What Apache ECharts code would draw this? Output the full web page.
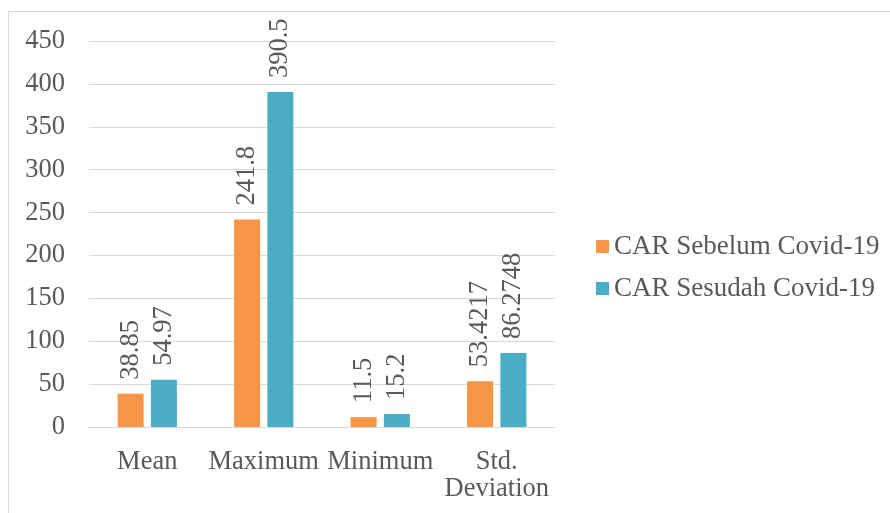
<!DOCTYPE html>
<html>
<head>
<meta charset="utf-8">
<script src="https://cdn.jsdelivr.net/npm/echarts@6/dist/echarts.min.js"></script>
<style>
  html, body { margin: 0; padding: 0; background: #fff; }
  #chart { width: 890px; height: 513px; }
</style>
</head>
<body>
<div id="chart"></div>
<script>
// Descriptive statistics of CAR before and after Covid-19
const categories = ['Mean', 'Maximum', 'Minimum', 'Std. Deviation'];
const carSebelum = [38.85, 241.8, 11.5, 53.4217];
const carSesudah = [54.97, 390.5, 15.2, 86.2748];
const seriesNames = ['CAR Sebelum Covid-19', 'CAR Sesudah Covid-19'];

const FONT = "'Liberation Serif', 'Times New Roman', serif";
const TEXT = '#595959';
const SIZE = 26.5;

const chart = echarts.init(document.getElementById('chart'), null, { renderer: 'canvas' });

function barLabel() {
  return {
    show: true,
    position: 'top',
    rotate: 90,
    align: 'left',
    verticalAlign: 'middle',
    distance: 14,
    color: TEXT,
    fontFamily: FONT,
    fontSize: SIZE
  };
}

chart.setOption({
  animation: false,
  backgroundColor: '#fff',
  graphic: [{
    type: 'rect',
    shape: { x: 8.5, y: 11.5, width: 900, height: 600 },
    style: { fill: 'none', stroke: '#d9d9d9', lineWidth: 1 },
    silent: true
  }],
  grid: { left: 89, right: 335, top: 41, bottom: 86, containLabel: false },
  legend: {
    orient: 'vertical',
    left: 591,
    top: 228,
    itemWidth: 13,
    itemHeight: 13,
    itemGap: 15,
    icon: 'rect',
    textStyle: { color: TEXT, fontFamily: FONT, fontSize: 27, lineHeight: 26 },
    data: seriesNames
  },
  xAxis: {
    type: 'category',
    data: categories,
    axisLine: { show: true, lineStyle: { color: '#d9d9d9', width: 1 } },
    axisTick: { show: false },
    axisLabel: {
      color: TEXT,
      fontFamily: FONT,
      fontSize: SIZE,
      lineHeight: 27,
      margin: 22,
      interval: 0,
      formatter: v => v.replace('Std. ', 'Std.\n')
    }
  },
  yAxis: {
    type: 'value',
    min: 0,
    max: 450,
    interval: 50,
    axisLine: { show: false },
    axisTick: { show: false },
    splitLine: { lineStyle: { color: '#d9d9d9', width: 1 } },
    axisLabel: { color: TEXT, fontFamily: FONT, fontSize: SIZE, margin: 24 }
  },
  series: [
    {
      name: seriesNames[0],
      type: 'bar',
      data: carSebelum,
      itemStyle: { color: '#F79646' },
      barWidth: 26,
      barGap: '28%',
      label: barLabel()
    },
    {
      name: seriesNames[1],
      type: 'bar',
      data: carSesudah,
      itemStyle: { color: '#4BACC6' },
      barWidth: 26,
      label: barLabel()
    }
  ]
});
</script>
</body>
</html>
